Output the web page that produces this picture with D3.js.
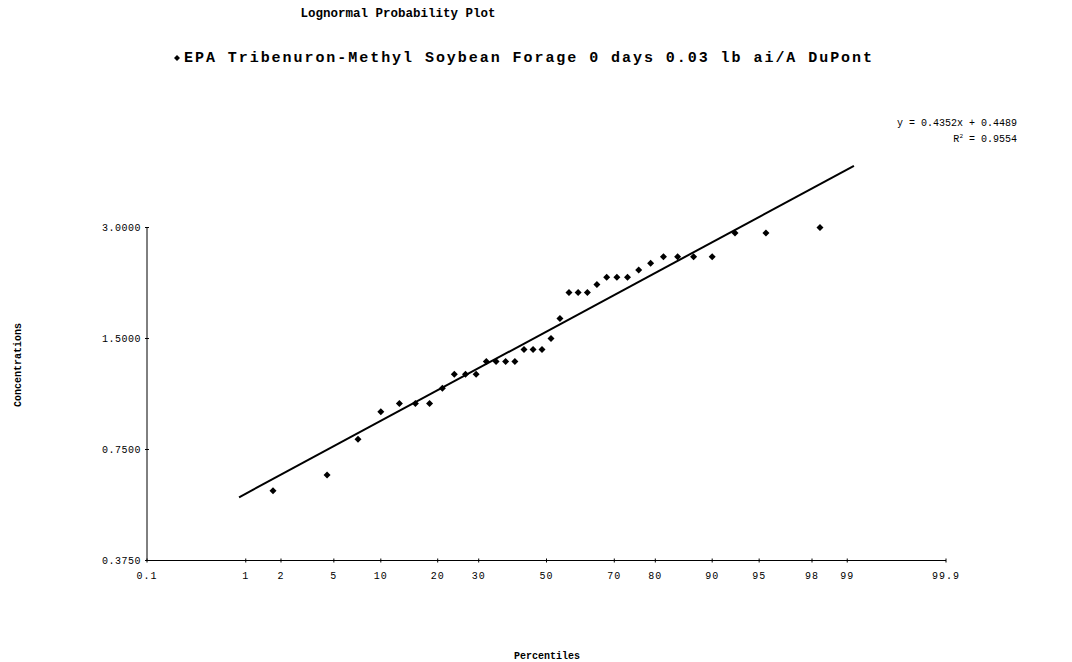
<!DOCTYPE html>
<html>
<head>
<meta charset="utf-8">
<script src="https://cdn.jsdelivr.net/npm/d3@7"></script>
<style>
  body { margin: 0; background: #fff; }
  svg text { font-family: "Liberation Mono", "Courier New", monospace; fill: #000; }
</style>
</head>
<body>
<div id="chart"></div>
<script>
'use strict';

// plotting positions (percent) and measured concentrations
var percentiles = [1.72, 4.48, 7.24, 10.00, 12.76, 15.52, 18.28, 21.03, 23.79, 26.55,
  29.31, 32.07, 34.83, 37.59, 40.34, 43.10, 45.86, 48.62, 51.38, 54.14,
  56.90, 59.66, 62.41, 65.17, 67.93, 70.69, 73.45, 76.21, 78.97, 81.72,
  84.48, 87.24, 90.00, 92.76, 95.52, 98.28];
var concentrations = [0.58, 0.64, 0.80, 0.95, 1.0, 1.0, 1.0, 1.1, 1.2, 1.2,
  1.2, 1.3, 1.3, 1.3, 1.3, 1.4, 1.4, 1.4, 1.5, 1.7,
  2.0, 2.0, 2.0, 2.1, 2.2, 2.2, 2.2, 2.3, 2.4, 2.5,
  2.5, 2.5, 2.5, 2.9, 2.9, 3.0];
var xTicks = [0.1, 1, 2, 5, 10, 20, 30, 50, 70, 80, 90, 95, 98, 99, 99.9];
var yTicks = [0.375, 0.75, 1.5, 3.0];
var fit = { slope: 0.4352, intercept: 0.4489, r2: 0.9554 };
var fitRange = [0.87, 99.13]; // percentiles where the trend line starts / stops

var W = 1072, H = 662;
var margin = { left: 147, right: 126, top: 227.5, bottom: 101.5 };

// inverse standard normal cdf (Acklam)
function probit(p) {
  var a = [-39.69683028665376, 220.9460984245205, -275.9285104469687, 138.3577518672690, -30.66479806614716, 2.506628277459239]
    , b = [-54.47609879822406, 161.5858368580409, -155.6989798598866, 66.80131188771972, -13.28068155288572]
    , c = [-0.007784894002430293, -0.3223964580411365, -2.400758277161838, -2.549732539343734, 4.374664141464968, 2.938163982698783]
    , d = [0.007784695709041462, 0.3224671290700398, 2.445134137142996, 3.754408661907416]
    , q, r;
  if (p < 0.02425) {
    q = Math.sqrt(-2 * Math.log(p));
    return (((((c[0]*q+c[1])*q+c[2])*q+c[3])*q+c[4])*q+c[5]) / ((((d[0]*q+d[1])*q+d[2])*q+d[3])*q+1);
  }
  if (p > 1 - 0.02425) {
    q = Math.sqrt(-2 * Math.log(1 - p));
    return -(((((c[0]*q+c[1])*q+c[2])*q+c[3])*q+c[4])*q+c[5]) / ((((d[0]*q+d[1])*q+d[2])*q+d[3])*q+1);
  }
  q = p - 0.5; r = q * q;
  return (((((a[0]*r+a[1])*r+a[2])*r+a[3])*r+a[4])*r+a[5])*q / (((((b[0]*r+b[1])*r+b[2])*r+b[3])*r+b[4])*r+1);
}

var zScale = d3.scaleLinear()
  .domain([probit(0.001), probit(0.999)])
  .range([margin.left, W - margin.right]);
var x = function (pct) { return zScale(probit(pct / 100)); };

var y = d3.scaleLog()
  .domain([yTicks[0], yTicks[yTicks.length - 1]])
  .range([H - margin.bottom, margin.top]);

// square diamond marker
var diamond = function (s) { return 'M0,' + (-s) + 'L' + s + ',0L0,' + s + 'L' + (-s) + ',0Z'; };

var svg = d3.select('#chart').append('svg')
  .attr('width', W)
  .attr('height', H);

// titles
svg.append('text')
  .attr('x', 398).attr('y', 17)
  .attr('text-anchor', 'middle')
  .style('font-size', '12.5px').style('font-weight', 'bold')
  .text('Lognormal Probability Plot');

var leg = svg.append('g').attr('transform', 'translate(177,62)');
leg.append('path')
  .attr('d', diamond(3))
  .attr('transform', 'translate(0,-4)');
leg.append('text')
  .attr('x', 7).attr('y', 0)
  .style('font-size', '15px').style('font-weight', 'bold')
  .style('letter-spacing', '1.95px')
  .text('EPA Tribenuron-Methyl Soybean Forage 0 days 0.03 lb ai/A DuPont');

// equation
var eq = svg.append('g').style('font-size', '10px');
eq.append('text').attr('x', 1017).attr('y', 126).attr('text-anchor', 'end')
  .text('y = ' + fit.slope.toFixed(4) + 'x + ' + fit.intercept.toFixed(4));
var r2 = eq.append('text').attr('x', 1017).attr('y', 142).attr('text-anchor', 'end');
r2.append('tspan').text('R');
r2.append('tspan').attr('dy', -4).style('font-size', '6px').text('2');
r2.append('tspan').attr('dy', 4).text('  = ' + fit.r2.toFixed(4));

// axes
var axisG = svg.append('g');
axisG.append('line')
  .attr('x1', x(xTicks[0])).attr('x2', x(xTicks[xTicks.length - 1]))
  .attr('y1', y(yTicks[0])).attr('y2', y(yTicks[0]))
  .attr('stroke', '#000').attr('stroke-width', 1);
axisG.append('line')
  .attr('x1', x(xTicks[0])).attr('x2', x(xTicks[0]))
  .attr('y1', y(yTicks[0])).attr('y2', y(yTicks[yTicks.length - 1]))
  .attr('stroke', '#000').attr('stroke-width', 1);

axisG.selectAll('line.xt').data(xTicks).enter().append('line')
  .attr('class', 'xt')
  .attr('x1', function (d) { return x(d); }).attr('x2', function (d) { return x(d); })
  .attr('y1', y(yTicks[0]) - 2).attr('y2', y(yTicks[0]) + 2)
  .attr('stroke', '#000');
axisG.selectAll('text.xl').data(xTicks).enter().append('text')
  .attr('class', 'xl')
  .attr('x', function (d) { return x(d); })
  .attr('y', y(yTicks[0]) + 18)
  .attr('text-anchor', 'middle')
  .style('font-size', '10px')
  .style('letter-spacing', '1px')
  .text(function (d) { return d; });

axisG.selectAll('line.yt').data(yTicks).enter().append('line')
  .attr('class', 'yt')
  .attr('x1', x(xTicks[0]) - 2).attr('x2', x(xTicks[0]) + 2)
  .attr('y1', function (d) { return y(d); }).attr('y2', function (d) { return y(d); })
  .attr('stroke', '#000');
axisG.selectAll('text.yl').data(yTicks).enter().append('text')
  .attr('class', 'yl')
  .attr('x', x(xTicks[0]) - 6)
  .attr('y', function (d) { return y(d) + 3.5; })
  .attr('text-anchor', 'end')
  .style('font-size', '10px')
  .style('letter-spacing', '0.5px')
  .text(function (d) { return d.toFixed(4); });

svg.append('text')
  .attr('transform', 'translate(21,365) rotate(-90)')
  .attr('text-anchor', 'middle')
  .style('font-size', '10px').style('font-weight', 'bold')
  .text('Concentrations');
svg.append('text')
  .attr('x', 547).attr('y', 659)
  .attr('text-anchor', 'middle')
  .style('font-size', '10px').style('font-weight', 'bold')
  .text('Percentiles');

// trend line
var line = d3.line()
  .x(function (d) { return x(d); })
  .y(function (d) { return y(Math.exp(fit.slope * probit(d / 100) + fit.intercept)); });
svg.append('path')
  .datum(fitRange)
  .attr('d', line)
  .attr('fill', 'none')
  .attr('stroke', '#000')
  .attr('stroke-width', 2);

// points
svg.selectAll('path.pt').data(percentiles).enter().append('path')
  .attr('class', 'pt')
  .attr('d', diamond(3.5))
  .attr('transform', function (d, i) { return 'translate(' + x(d) + ',' + y(concentrations[i]) + ')'; });
</script>
</body>
</html>
